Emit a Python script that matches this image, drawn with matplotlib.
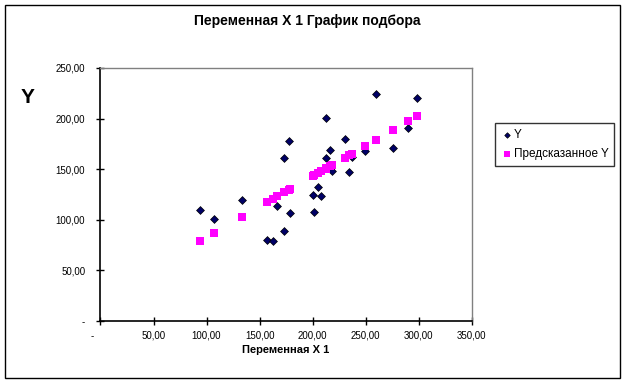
import matplotlib
matplotlib.use('agg')
import matplotlib.pyplot as plt
from matplotlib.patches import Rectangle
from matplotlib.ticker import FuncFormatter

plt.rcParams['font.family'] = ['Liberation Sans', 'DejaVu Sans']

# data
x1 = [94.0, 107.3, 133.7, 157.3, 162.9, 166.8, 173.3, 173.3, 177.4, 179.0,
      200.6, 201.6, 205.3, 208.2, 212.3, 212.9, 216.7, 218.7, 230.2, 234.6,
      237.0, 249.0, 260.0, 276.1, 290.3, 298.7]
y_obs = [110.0, 101.1, 119.9, 80.3, 79.3, 113.9, 161.4, 89.2, 178.2, 107.0,
         124.8, 108.0, 132.7, 123.8, 200.9, 161.4, 169.3, 148.4, 180.0, 147.5,
         162.0, 168.3, 224.6, 171.2, 191.0, 220.7]
y_pred = [79.4, 87.4, 103.2, 117.4, 120.8, 123.1, 127.1, 127.1, 129.5, 130.5,
          143.5, 144.1, 146.3, 148.1, 150.5, 150.9, 153.2, 154.4, 161.3, 163.9,
          165.4, 172.6, 179.2, 188.9, 197.4, 202.5]
x_ticks = [0, 50, 100, 150, 200, 250, 300, 350]
y_ticks = [0, 50, 100, 150, 200, 250]


def fmt(v, pos=None):
    if v == 0:
        return '-'
    return ('%.2f' % v).replace('.', ',')


def fmt_x(v, pos=None):
    # zero label of x axis is drawn separately, shifted left like in Excel
    return '' if v == 0 else fmt(v)


fig = plt.figure(figsize=(6.24, 3.84), dpi=100)
fig.patches.append(Rectangle((0.008, 0.0156), 0.986, 0.971, transform=fig.transFigure,
                             fill=False, edgecolor='black', linewidth=1.0))

ax = fig.add_axes([0.161, 0.164, 0.595, 0.659])
ax.scatter(x1, y_obs, marker='D', s=16, color='#000066', edgecolor='black',
           linewidth=0.5, label='Y', zorder=3)
ax.scatter(x1, y_pred, marker='s', s=30, color='#FF00FF', linewidth=0,
           label='Предсказанное Y', zorder=3)

ax.set_xlim(0, 350)
ax.set_ylim(0, 250)
ax.set_xticks(x_ticks)
ax.set_yticks(y_ticks)
ax.xaxis.set_major_formatter(FuncFormatter(fmt_x))
ax.yaxis.set_major_formatter(FuncFormatter(fmt))
ax.tick_params(direction='inout', length=6, width=1, labelsize=7, pad=4)
ax.tick_params(axis='y', pad=8)
ax.annotate('-', xy=(0, 0), xytext=(-6, -11), textcoords='offset points',
            fontsize=7, ha='center', va='center', annotation_clip=False)

for s in ['left', 'bottom']:
    ax.spines[s].set_color('black')
    ax.spines[s].set_linewidth(1.2)
for s in ['top', 'right']:
    ax.spines[s].set_color('#808080')
    ax.spines[s].set_linewidth(1.0)

ax.set_xlabel('Переменная X 1', fontsize=8, fontweight='bold', labelpad=3)
fig.text(0.045, 0.745, 'Y', fontsize=15, fontweight='bold', ha='center', va='center')
fig.text(0.492, 0.945, 'Переменная X 1 График подбора', fontsize=10,
         fontweight='bold', ha='center', va='center')

leg = fig.legend(loc='upper left', bbox_to_anchor=(0.793, 0.68), fontsize=8.5,
                 frameon=True, fancybox=False, borderaxespad=0, handletextpad=0.1,
                 handlelength=1.0, borderpad=0.5, labelspacing=0.6, markerscale=0.7)
leg.get_frame().set_edgecolor('black')
leg.get_frame().set_linewidth(1.0)

fig.savefig('out.png', dpi=100)
